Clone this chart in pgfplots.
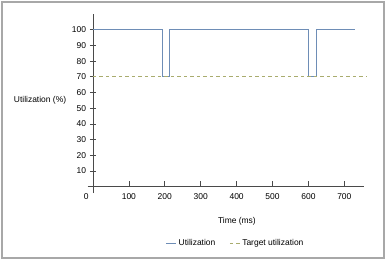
\documentclass[border=0pt]{standalone}
\usepackage{pgfplots}
\pgfplotsset{compat=1.18}
\usepackage{fontspec}
\setmainfont{Liberation Sans}
\definecolor{util}{HTML}{6E8DB6}
\definecolor{targ}{HTML}{A9AC6E}
\definecolor{axc}{HTML}{4A4A4A}
\definecolor{frm}{HTML}{A8A8A8}
\begin{document}
\begin{tikzpicture}[x=1bp,y=1bp]
\useasboundingbox (-87.6,-70) rectangle (300.4,193);
\draw[frm, line width=1.4bp] (-85.6,-65) rectangle (296.4,191);
\begin{axis}[
  scale only axis,
  width=276.5bp, height=179bp,
  xmin=-15, xmax=755, ymin=-4, ymax=110,
  axis lines=middle,
  axis line style={axc, line width=0.7bp, -},
  xtick={100,200,...,700},
  ytick={10,20,...,100},
  xtick align=inside,
  ytick align=center,
  major tick length=6bp,
  tick style={axc, line width=0.7bp},
  /pgf/number format/assume math mode=true,
  tick label style={font=\fontsize{8.5}{10}\selectfont, text=black},
  xticklabel style={yshift=-3bp},
  yticklabel style={xshift=-0.5bp},
  xlabel={Time (ms)},
  ylabel={Utilization (\%)},
  xlabel style={at={(rel axis cs:0.540,-0.158)}, anchor=center, font=\fontsize{8.5}{10}\selectfont},
  ylabel style={at={(rel axis cs:-0.172,0.52)}, anchor=center, rotate=0, font=\fontsize{8.5}{10}\selectfont},
  legend columns=2,
  legend style={at={(rel axis cs:0.535,-0.283)}, anchor=center, draw=none, fill=none,
    font=\fontsize{8.5}{10}\selectfont,
    /tikz/every even column/.append style={column sep=12bp}},
  legend image code/.code={\draw[#1] (0bp,0bp) -- (10bp,0bp);},
  clip=false,
]
\addplot[util, line width=1.1bp] coordinates {
  (0,100) (194,100) (194,70) (213,70) (213,100) (600,100) (600,70) (622,70) (622,100) (730,100)
};
\addlegendentry{Utilization}
\addplot[targ, line width=0.9bp, dash pattern=on 3.5bp off 3bp] coordinates {
  (0,70) (762,70)
};
\addlegendentry{Target utilization}
\node[anchor=center, font=\fontsize{8.5}{10}\selectfont] at (axis cs:-19,-6.5) {0};
\end{axis}
\end{tikzpicture}
\end{document}
